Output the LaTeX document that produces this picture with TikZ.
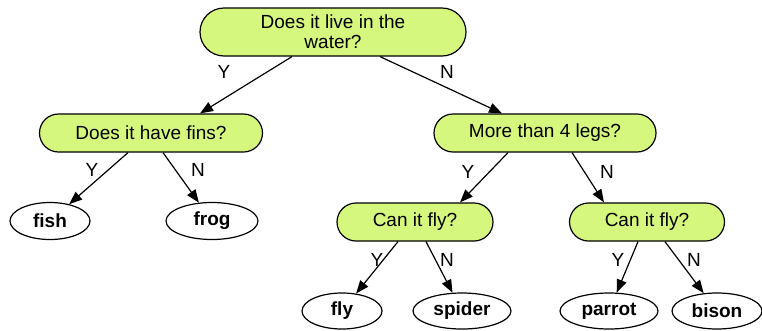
\documentclass[tikz,border=0pt]{standalone}
\usepackage{fontspec}
\setmainfont{Liberation Sans}
\usetikzlibrary{arrows.meta,shapes.misc,shapes.geometric}
\definecolor{qgreen}{RGB}{214,247,125}

\begin{document}
\begin{tikzpicture}[
  x=1pt, y=-1pt,
  qnode/.style={draw,rounded rectangle,fill=qgreen,line width=1.2pt,minimum height=38pt,inner sep=2pt,align=center,font=\fontsize{19}{20}\selectfont},
  anode/.style={draw,ellipse,line width=1.2pt,minimum height=37pt,inner sep=0pt,font=\fontsize{19}{20}\selectfont\bfseries},
  lbl/.style={font=\fontsize{19}{20}\selectfont},
  arr/.style={-{Triangle[length=13pt,width=10pt]},line width=1.2pt}
]
  \useasboundingbox (0,0) rectangle (762,330);

  % questions
  \node[qnode,minimum width=270pt,minimum height=48pt] (water) at (333,32) {Does it live in the\\water?};
  \node[qnode,minimum width=227pt] (fins) at (151,133) {Does it have fins?};
  \node[qnode,minimum width=226pt] (legs) at (545,133) {More than 4 legs?};
  \node[qnode,minimum width=160pt] (fly1) at (415,222) {Can it fly?};
  \node[qnode,minimum width=159pt] (fly2) at (647,222) {Can it fly?};

  % animals
  \node[anode,minimum width=80pt] (fish) at (50,221) {fish};
  \node[anode,minimum width=92pt] (frog) at (212,221) {frog};
  \node[anode,minimum width=80pt,minimum height=36pt] (fly) at (342,311) {fly};
  \node[anode,minimum width=98pt,minimum height=36pt] (spider) at (462,311) {spider};
  \node[anode,minimum width=98pt,minimum height=36pt] (parrot) at (609,311) {parrot};
  \node[anode,minimum width=90pt,minimum height=36pt] (bison) at (717,311) {bison};

  % answers
  \node[lbl] (yWater) at (224,72) {Y};
  \node[lbl] (nWater) at (447,72) {N};
  \node[lbl] (yFins) at (92,170) {Y};
  \node[lbl] (nFins) at (198,170) {N};
  \node[lbl] (yLegs) at (468,172) {Y};
  \node[lbl] (nLegs) at (607,172) {N};
  \node[lbl] (yFly1) at (377,260) {Y};
  \node[lbl] (nFly1) at (447,260) {N};
  \node[lbl] (yFly2) at (618,260) {Y};
  \node[lbl] (nFly2) at (694,260) {N};

  % edges
  \draw[arr] ([xshift=-41pt]water.south) -- ([xshift=49pt]fins.north);
  \draw[arr] ([xshift=47pt]water.south) -- ([xshift=-43pt]legs.north);
  \draw[arr] ([xshift=-23pt]fins.south) -- (fish);
  \draw[arr] ([xshift=12pt]fins.south) -- (frog);
  \draw[arr] ([xshift=-37pt]legs.south) -- ([xshift=45pt]fly1.north);
  \draw[arr] ([xshift=27pt]legs.south) -- ([xshift=-43pt]fly2.north);
  \draw[arr] ([xshift=-17pt]fly1.south) -- (fly);
  \draw[arr] ([xshift=11pt]fly1.south) -- (spider);
  \draw[arr] ([xshift=-9pt]fly2.south) -- (parrot);
  \draw[arr] ([xshift=18pt]fly2.south) -- (bison);

\end{tikzpicture}
\end{document}
